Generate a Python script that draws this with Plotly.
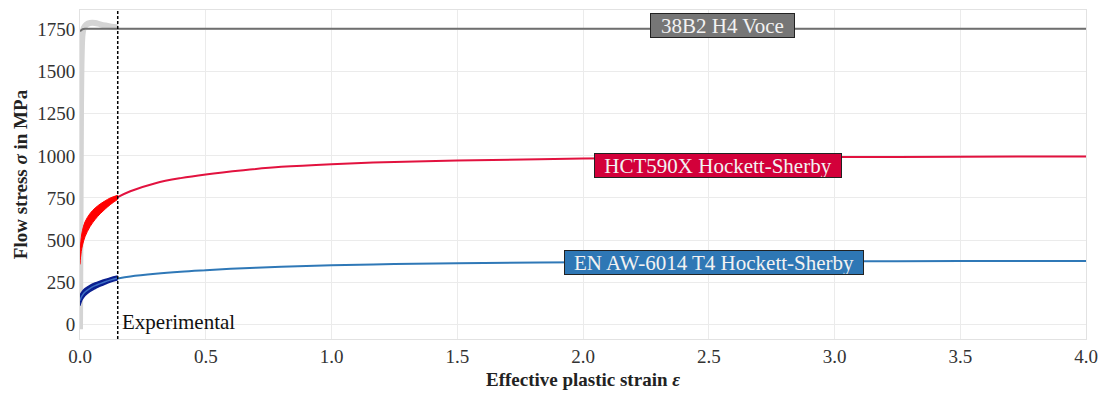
import plotly.graph_objects as go

# ---- data ----
# Experimental bands (0 .. 0.15)
exp_gray_eps = [0.0, 0.002, 0.004, 0.007, 0.01, 0.015, 0.025, 0.04, 0.06, 0.08, 0.1, 0.125, 0.15]
exp_gray_sig = [-30, 600, 1300, 1620, 1720, 1760, 1780, 1790, 1790, 1782, 1775, 1768, 1765]

exp_red_eps = [0.0, 0.002, 0.005, 0.01, 0.02, 0.04, 0.06, 0.08, 0.10, 0.12, 0.15]
exp_red_low = [355, 395, 432, 470, 520, 580, 622, 656, 684, 710, 742]
exp_red_up = [390, 465, 515, 558, 608, 658, 690, 714, 733, 750, 766]

exp_blue_eps = [0.0, 0.002, 0.005, 0.01, 0.02, 0.04, 0.06, 0.08, 0.10, 0.12, 0.15]
exp_blue_low = [110, 122, 135, 150, 170, 195, 212, 226, 238, 250, 264]
exp_blue_up = [168, 176, 185, 196, 211, 231, 245, 256, 266, 275, 286]
exp_blue_mid = [140, 149, 160, 173, 191, 213, 229, 241, 252, 262, 275]

# Model curves
voce_eps = [0.0, 0.005, 0.01, 0.02, 0.5, 1.0, 2.0, 3.0, 4.0]
voce_sig = [1740, 1748, 1753, 1755, 1755, 1755, 1755, 1755, 1755]

hs_eps = [0.15, 0.2, 0.3, 0.4, 0.5, 0.65, 0.8, 1.0, 1.25, 1.5, 2.0, 2.5, 3.0, 3.5, 4.0]
hct_sig = [755, 790, 838, 868, 890, 915, 935, 951, 964, 972, 984, 990, 993, 995, 997]
al_sig = [272, 284, 300, 312, 321, 333, 341, 350, 357, 362, 368, 372, 374, 375, 376]

exp_strain_limit = 0.15

x_ticks = [0.0, 0.5, 1.0, 1.5, 2.0, 2.5, 3.0, 3.5, 4.0]
y_ticks = [0, 250, 500, 750, 1000, 1250, 1500, 1750]

labels = ["38B2 H4 Voce", "HCT590X Hockett-Sherby", "EN AW-6014 T4 Hockett-Sherby"]
label_x = [2.555, 2.535, 2.52]
label_y = [1776, 942, 364]

FONT = "Liberation Serif, Times New Roman, serif"

fig = go.Figure()

# experimental gray (38B2)
fig.add_trace(go.Scatter(x=exp_gray_eps, y=exp_gray_sig, mode="lines",
                         line=dict(color="#d4d4d4", width=6, shape="spline"),
                         showlegend=False, hoverinfo="skip"))

# experimental red band
fig.add_trace(go.Scatter(x=exp_red_eps, y=exp_red_low, mode="lines",
                         line=dict(color="#ff0000", width=1, shape="spline"),
                         showlegend=False, hoverinfo="skip"))
fig.add_trace(go.Scatter(x=exp_red_eps, y=exp_red_up, mode="lines", fill="tonexty",
                         fillcolor="#ff0000",
                         line=dict(color="#ff0000", width=1, shape="spline"),
                         showlegend=False, hoverinfo="skip"))

# experimental blue band
fig.add_trace(go.Scatter(x=exp_blue_eps, y=exp_blue_low, mode="lines",
                         line=dict(color="#0b1f8f", width=1.5, shape="spline"),
                         showlegend=False, hoverinfo="skip"))
fig.add_trace(go.Scatter(x=exp_blue_eps, y=exp_blue_up, mode="lines", fill="tonexty",
                         fillcolor="#0b1f8f",
                         line=dict(color="#0b1f8f", width=1.5, shape="spline"),
                         showlegend=False, hoverinfo="skip"))
fig.add_trace(go.Scatter(x=exp_blue_eps, y=exp_blue_mid, mode="lines",
                         line=dict(color="#3d6fc4", width=1.5, shape="spline"),
                         showlegend=False, hoverinfo="skip"))

# model curves
fig.add_trace(go.Scatter(x=voce_eps, y=voce_sig, mode="lines",
                         line=dict(color="#6f6f6f", width=2),
                         showlegend=False))
fig.add_trace(go.Scatter(x=hs_eps, y=hct_sig, mode="lines",
                         line=dict(color="#e2123f", width=2, shape="spline"),
                         showlegend=False))
fig.add_trace(go.Scatter(x=hs_eps, y=al_sig, mode="lines",
                         line=dict(color="#2f78b7", width=2, shape="spline"),
                         showlegend=False))

# experimental limit
fig.add_vline(x=exp_strain_limit, line=dict(color="black", width=1.5, dash="3px,2px"))
fig.add_annotation(x=exp_strain_limit, y=12, text="Experimental", showarrow=False,
                   xanchor="left", yanchor="middle", xshift=2,
                   font=dict(family=FONT, size=21, color="#111"))

box_colors = ["#767676", "#d3003a", "#2e77b5"]
box_w = [143, 246, 298]
for t, x, y, c, w in zip(labels, label_x, label_y, box_colors, box_w):
    fig.add_annotation(x=x, y=y, text=t, showarrow=False, xanchor="center", yanchor="middle",
                       bgcolor=c, bordercolor="#222", borderwidth=1, borderpad=0,
                       width=w, height=23,
                       font=dict(family=FONT, size=21, color="#f2f2f2"))

fig.update_layout(
    width=1107, height=395,
    margin=dict(l=80, r=19, t=9, b=53),
    paper_bgcolor="white", plot_bgcolor="white",
    font=dict(family=FONT, size=18, color="#333"),
    xaxis=dict(range=[0, 4.0], tickvals=x_ticks, ticktext=[f"{v:.1f}" for v in x_ticks],
               showgrid=True, gridcolor="#ebebeb", zeroline=False,
               showline=True, linecolor="#e2e2e2", mirror=True,
               title=dict(text="<b>Effective plastic strain <i>ε</i></b>",
                          font=dict(family=FONT, size=19, color="#222"), standoff=6),
               tickfont=dict(family=FONT, size=19, color="#333")),
    yaxis=dict(range=[-88, 1867], tickvals=y_ticks, ticktext=[str(v) for v in y_ticks],
               showgrid=True, gridcolor="#ebebeb", zeroline=False,
               showline=True, linecolor="#e2e2e2", mirror=True,
               title=dict(text="<b>Flow stress <i>σ</i> in MPa</b>",
                          font=dict(family=FONT, size=19, color="#222"), standoff=4),
               tickfont=dict(family=FONT, size=19, color="#333")),
)

fig.write_html("out.html")
